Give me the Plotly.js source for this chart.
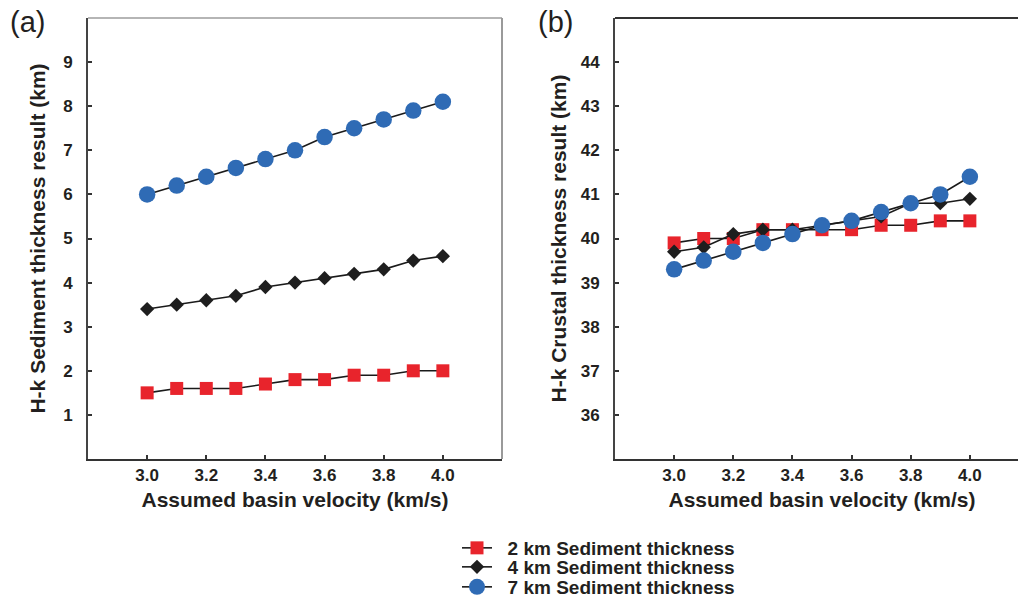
<!DOCTYPE html>
<html>
<head>
<meta charset="utf-8">
<script src="https://cdn.plot.ly/plotly-3.0.1.min.js"></script>
<style>
  html, body { margin: 0; padding: 0; background: #fff; overflow: hidden; }
  #chart { width: 1045px; height: 598px; }
</style>
</head>
<body>
<div id="chart"></div>
<script>
// Assumed basin velocity (km/s)
const velocity = [3.0, 3.1, 3.2, 3.3, 3.4, 3.5, 3.6, 3.7, 3.8, 3.9, 4.0];

// (a) H-k sediment thickness result (km)
const sed2km = [1.5, 1.6, 1.6, 1.6, 1.7, 1.8, 1.8, 1.9, 1.9, 2.0, 2.0];
const sed4km = [3.4, 3.5, 3.6, 3.7, 3.9, 4.0, 4.1, 4.2, 4.3, 4.5, 4.6];
const sed7km = [6.0, 6.2, 6.4, 6.6, 6.8, 7.0, 7.3, 7.5, 7.7, 7.9, 8.1];

// (b) H-k crustal thickness result (km)
const crust2km = [39.9, 40.0, 40.0, 40.2, 40.2, 40.2, 40.2, 40.3, 40.3, 40.4, 40.4];
const crust4km = [39.7, 39.8, 40.1, 40.2, 40.2, 40.3, 40.4, 40.5, 40.8, 40.8, 40.9];
const crust7km = [39.3, 39.5, 39.7, 39.9, 40.1, 40.3, 40.4, 40.6, 40.8, 41.0, 41.4];

const seriesNames = ['2 km Sediment thickness', '4 km Sediment thickness', '7 km Sediment thickness'];
const xTicks = [3.0, 3.2, 3.4, 3.6, 3.8, 4.0];
const yTicksA = [1, 2, 3, 4, 5, 6, 7, 8, 9];
const yTicksB = [36, 37, 38, 39, 40, 41, 42, 43, 44];

const ink = '#231f20';
const FAMILY = 'Liberation Sans, Arial, sans-serif';
const styles = [
  { symbol: 'square', color: '#e8242c', size: 13 },
  { symbol: 'diamond', color: '#1e1e1e', size: 11 },
  { symbol: 'circle', color: '#2f6bb5', size: 16.5 }
];
const legendIds = ['legend', 'legend2', 'legend3'];

function makeTrace(y, i, xa, ya, legend) {
  return {
    x: velocity, y: y, type: 'scatter', mode: 'lines+markers',
    name: '\u00a0\u00a0' + seriesNames[i], xaxis: xa, yaxis: ya,
    showlegend: legend, legend: legendIds[i],
    line: { color: '#1a1a1a', width: 1.6 },
    marker: { symbol: styles[i].symbol, color: styles[i].color, size: styles[i].size,
              line: { width: 0 } }
  };
}

const traces = [
  makeTrace(sed2km, 0, 'x', 'y', true),
  makeTrace(sed4km, 1, 'x', 'y', true),
  makeTrace(sed7km, 2, 'x', 'y', true),
  makeTrace(crust2km, 0, 'x2', 'y2', false),
  makeTrace(crust4km, 1, 'x2', 'y2', false),
  makeTrace(crust7km, 2, 'x2', 'y2', false)
];

const W = 1045, H = 598;
const tickFont = { family: FAMILY, size: 17, color: ink, weight: 'bold' };
const titleFont = { family: FAMILY, size: 21, color: ink, weight: 'bold' };
const yDom = [1 - 459 / H, 1 - 18 / H];

function xAxis(domain, anchor) {
  return {
    domain: domain, anchor: anchor, range: [2.8, 4.2], tickvals: xTicks,
    ticktext: xTicks.map(v => v.toFixed(1)),
    showgrid: false, zeroline: false, showline: true, linecolor: '#333', linewidth: 2,
    ticks: 'inside', ticklen: 4, tickwidth: 2, tickcolor: '#333',
    tickfont: tickFont, ticklabelstandoff: 0,
    title: { text: 'Assumed basin velocity (km/s)', font: titleFont, standoff: 8 }
  };
}
function yAxis(range, ticks, title, anchor, standoff) {
  return {
    domain: yDom, anchor: anchor, range: range, tickvals: ticks,
    showgrid: false, zeroline: false, showline: true, linecolor: '#444', linewidth: 2,
    ticks: 'inside', ticklen: 4, tickwidth: 2, tickcolor: '#333',
    tickfont: tickFont, ticklabelstandoff: 10,
    title: { text: title, font: titleFont, standoff: standoff }
  };
}

function legendAt(row) {
  return {
    x: 457 / W, y: 1 - row / H, xanchor: 'left', yanchor: 'middle',
    bgcolor: 'rgba(0,0,0,0)', borderwidth: 0,
    font: { family: FAMILY, size: 19, color: ink, weight: 'bold' }
  };
}

const layout = {
  width: W, height: H,
  margin: { l: 0, r: 0, t: 0, b: 0, autoexpand: false },
  paper_bgcolor: '#fff', plot_bgcolor: '#fff',
  font: { family: FAMILY, color: ink },
  xaxis: xAxis([88 / W, 502 / W], 'y'),
  yaxis: yAxis([0, 10], yTicksA, 'H-k Sediment thickness result (km)', 'x', 12),
  xaxis2: xAxis([615 / W, 1029 / W], 'y2'),
  yaxis2: yAxis([35, 45], yTicksB, 'H-k Crustal thickness result (km)', 'x2', 8),
  shapes: [
    // panel (a) frame: top and right edges in light grey
    { type: 'line', xref: 'x domain', yref: 'y domain', x0: 0, x1: 1, y0: 1, y1: 1,
      line: { color: '#b5b5b5', width: 2 } },
    { type: 'line', xref: 'x domain', yref: 'y domain', x0: 1, x1: 1, y0: 0, y1: 1,
      line: { color: '#9a9a9a', width: 2 } },
    // panel (b) frame: top edge
    { type: 'line', xref: 'x2 domain', yref: 'y2 domain', x0: 0, x1: 1, y0: 1, y1: 1,
      line: { color: '#333', width: 2 } }
  ],
  annotations: [
    { text: '(a)', xref: 'paper', yref: 'paper', x: 27 / W, y: 1 - 22 / H,
      xanchor: 'center', yanchor: 'middle', showarrow: false,
      font: { family: FAMILY, size: 29, color: ink } },
    { text: '(b)', xref: 'paper', yref: 'paper', x: 555 / W, y: 1 - 22 / H,
      xanchor: 'center', yanchor: 'middle', showarrow: false,
      font: { family: FAMILY, size: 29, color: ink } }
  ],
  showlegend: true,
  legend: legendAt(548),
  legend2: legendAt(567),
  legend3: legendAt(587)
};

Plotly.newPlot('chart', traces, layout, { staticPlot: true, displayModeBar: false });
</script>
</body>
</html>
